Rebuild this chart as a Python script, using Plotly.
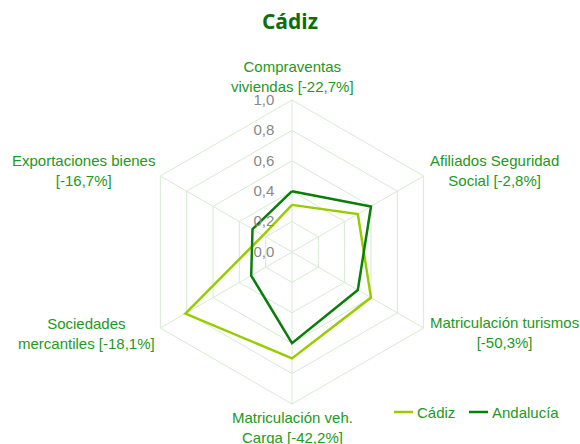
import plotly.graph_objects as go

categories = [
    "Compraventas<br>viviendas [-22,7%]",
    "Afiliados Seguridad<br>Social [-2,8%]",
    "Matriculación turismos<br>[-50,3%]",
    "Matriculación veh.<br>Carga [-42,2%]",
    "Sociedades<br>mercantiles [-18,1%]",
    "Exportaciones bienes<br>[-16,7%]",
]
series_names = ["Cádiz", "Andalucía"]
cadiz = [0.31, 0.50, 0.60, 0.70, 0.81, 0.22]
andalucia = [0.40, 0.60, 0.50, 0.60, 0.31, 0.30]
radial_ticks = [0.0, 0.2, 0.4, 0.6, 0.8, 1.0]

LABEL = "#229922"
GRID = "#d6ead2"
COLORS = ["#99cc00", "#0a7d0a"]
W, H = 580, 444

def px(x):
    return x / W

def py(y):
    return 1 - y / H

fig = go.Figure()
for name, vals, col in zip(series_names, [cadiz, andalucia], COLORS):
    fig.add_trace(go.Scatterpolar(
        r=vals + vals[:1], theta=categories + categories[:1], mode="lines",
        name=name, showlegend=False, line=dict(color=col, width=2.5)))

# category labels (centered, like the reference)
label_pos = [(292, 76), (494, 171), (504, 332), (292, 427), (86, 333), (83, 171)]
annotations = []
for text, (x, y) in zip(categories, label_pos):
    annotations.append(dict(text=text, x=px(x), y=py(y), xref="paper", yref="paper",
                            xanchor="center", yanchor="middle", showarrow=False,
                            align="center", font=dict(size=15, color=LABEL)))

# custom legend
shapes = []
leg = [(394, 413, 415), (469, 488, 490)]
for name, col, (x0, x1, xt) in zip(series_names, COLORS, leg):
    shapes.append(dict(type="line", xref="paper", yref="paper",
                       x0=px(x0), x1=px(x1), y0=py(412), y1=py(412),
                       line=dict(color=col, width=2.5)))
    annotations.append(dict(text=name, x=px(xt), y=py(412), xref="paper", yref="paper",
                            xanchor="left", yanchor="middle", showarrow=False,
                            font=dict(size=15, color=LABEL)))

fig.update_layout(
    width=W, height=H,
    margin=dict(l=0, r=0, t=0, b=0),
    paper_bgcolor="white", plot_bgcolor="white",
    separators=",.",
    font=dict(family="Liberation Sans, Arial, sans-serif", size=13, color=LABEL),
    title=dict(text="<b>Cádiz</b>", x=0.5, xanchor="center", y=py(22), yanchor="middle",
               font=dict(family="Open Sans, sans-serif", size=21, color="#0a6e0a")),
    polar=dict(
        domain=dict(x=[px(140), px(444)], y=[py(404), py(100)]),
        bgcolor="white",
        gridshape="linear",
        angularaxis=dict(direction="clockwise", rotation=90, type="category",
                         categoryarray=categories, showticklabels=False,
                         gridcolor=GRID, linecolor=GRID, showline=True, ticks=""),
        radialaxis=dict(range=[0, 1], tickvals=radial_ticks, tickformat=".1f",
                        angle=90, tickangle=90, side="counterclockwise",
                        showline=False, ticks="outside", ticklen=12,
                        tickcolor="rgba(0,0,0,0)",
                        gridcolor=GRID,
                        tickfont=dict(size=15, color="#888888")),
    ),
    annotations=annotations,
    shapes=shapes,
    showlegend=False,
)
fig.write_html("out.html", config={"displayModeBar": False},
               post_script="document.body.style.margin='0';")
